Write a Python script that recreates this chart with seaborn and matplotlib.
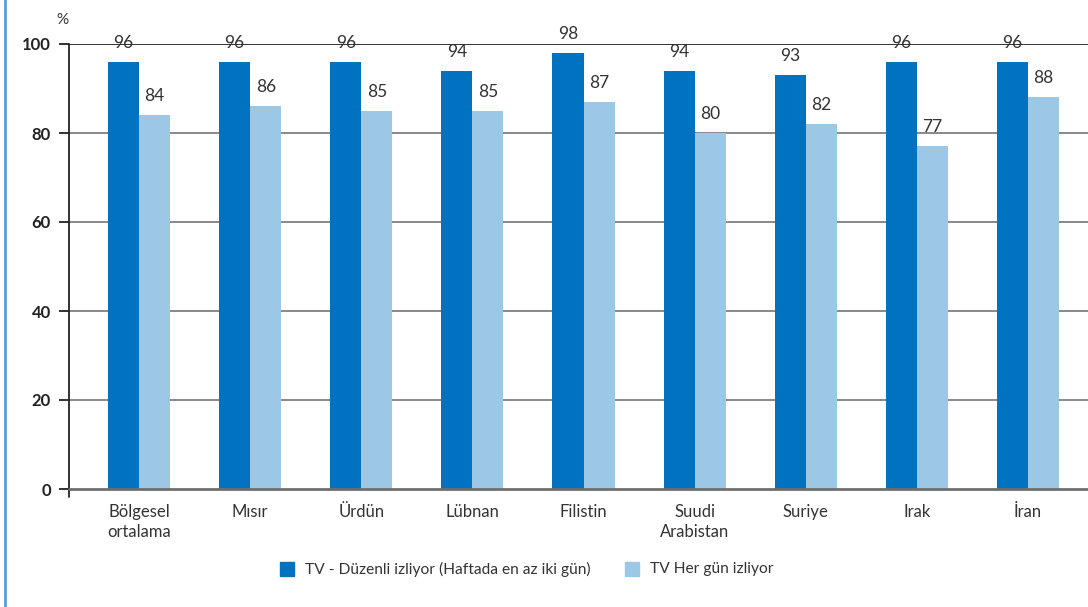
import pandas as pd
import matplotlib.pyplot as plt
import seaborn as sns
from matplotlib.lines import Line2D
from matplotlib.patches import Rectangle

# data
countries = ["Bölgesel\nortalama", "Mısır", "Ürdün", "Lübnan", "Filistin",
             "Suudi\nArabistan", "Suriye", "Irak", "İran"]
regular = [96, 96, 96, 94, 98, 94, 93, 96, 96]
daily = [84, 86, 85, 85, 87, 80, 82, 77, 88]
series_names = ["TV - Düzenli izliyor (Haftada en az iki gün)", "TV Her gün izliyor"]
y_ticks = [0, 20, 40, 60, 80, 100]

dark = "#0072bf"
light = "#9cc7e5"
text_col = "#333333"

df = pd.DataFrame({
    "country": countries * 2,
    "value": regular + daily,
    "series": [series_names[0]] * len(countries) + [series_names[1]] * len(countries),
})

sns.set_theme(style="white")
plt.rcParams['font.family'] = ['Lato', 'DejaVu Sans']

fig = plt.figure(figsize=(10.88, 6.07), dpi=100)
ax = fig.add_axes([69 / 1088, 1 - 489 / 607, 1 - 69 / 1088, 445 / 607])

sns.barplot(data=df, x="country", y="value", hue="series", order=countries,
            hue_order=series_names, palette=[dark, light], width=0.56,
            saturation=1, ax=ax, legend=False, linewidth=0)

ax.set_xlim(-0.63, 8.54)
ax.set_ylim(0, 100)
ax.set_yticks(y_ticks)
ax.set_xlabel("")
ax.set_ylabel("")

# gridlines behind the bars
for t in y_ticks[1:-1]:
    ax.axhline(t, color="#7f7f7f", lw=1.3, zorder=0)
ax.axhline(100, color="#222222", lw=1.3, zorder=0)
ax.axhline(0, color="#6f6f6f", lw=2, zorder=3, clip_on=False)

for s in ["top", "right", "bottom", "left"]:
    ax.spines[s].set_visible(False)
ax.add_line(Line2D([0, 0], [-0.018, 1], transform=ax.transAxes, color="#222222",
                   lw=1.3, clip_on=False))

ax.tick_params(axis="y", length=7, width=1.3, color="#222222", left=True, pad=6)
ax.tick_params(axis="x", length=0, pad=11)
for lab in ax.get_yticklabels():
    lab.set_fontweight("bold")
    lab.set_fontsize(12)
    lab.set_color("#222222")
for lab in ax.get_xticklabels():
    lab.set_fontsize(12)
    lab.set_color(text_col)
    lab.set_linespacing(1.3)

# value labels above bars
for cont in ax.containers:
    ax.bar_label(cont, fmt="%d", padding=8, fontsize=12.5, color=text_col)

ax.text(-0.006, 1.054, "%", transform=ax.transAxes, fontsize=11, color=text_col,
        ha="center", va="center")

# legend at the bottom
fig.patches.append(Rectangle((280 / 1088, 1 - 576 / 607), 14 / 1088, 14 / 607,
                             transform=fig.transFigure, color=dark))
fig.text(305 / 1088, 1 - 569 / 607, series_names[0], fontsize=11.2, color=text_col, va="center")
fig.patches.append(Rectangle((625 / 1088, 1 - 576 / 607), 14 / 1088, 14 / 607,
                             transform=fig.transFigure, color=light))
fig.text(650 / 1088, 1 - 569 / 607, series_names[1], fontsize=11.2, color=text_col, va="center")

# blue frame line on the left
fig.add_artist(Line2D([5 / 1088, 5 / 1088], [0, 1], transform=fig.transFigure,
                      color="#5a9fd8", lw=2))

fig.savefig("out.png", dpi=100)
